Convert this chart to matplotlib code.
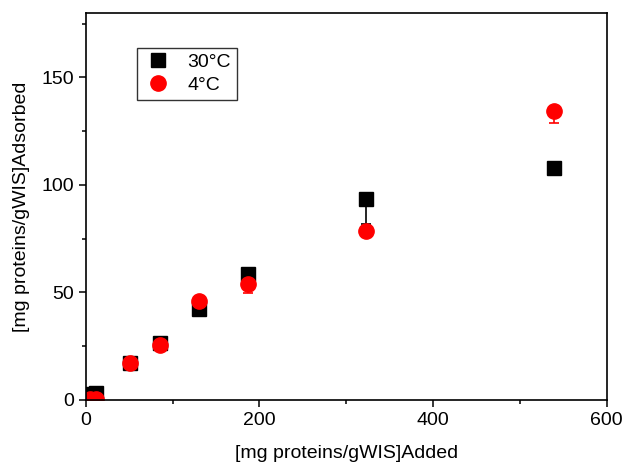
import matplotlib
matplotlib.use("Agg")
import matplotlib.pyplot as plt
from matplotlib.ticker import MultipleLocator

plt.rcParams['font.family'] = ['Liberation Sans', 'DejaVu Sans']

added = [5, 12, 51, 86, 131, 187, 323, 539]
ads_30 = [3.0, 3.2, 17.0, 26.5, 42.5, 58.5, 93.5, 108.0]
err_30 = [0.5, 0.5, 1.0, 1.0, 1.0, 1.5, 11.5, 2.4]
ads_4 = [0.6, 0.6, 17.0, 25.6, 46.0, 54.0, 78.7, 134.5]
err_4 = [0.3, 0.3, 1.0, 1.0, 5.0, 4.4, 1.0, 5.9]

fig = plt.figure(figsize=(6.23, 4.67), dpi=100)
ax = fig.add_axes([0.1376, 0.1435, 0.8362, 0.8287])

ax.errorbar(added, ads_30, yerr=[err_30, [0] * len(err_30)], fmt='s', color='black',
            ms=10, capsize=3.5, elinewidth=1.2, capthick=1.2, label='30°C')
ax.errorbar(added, ads_4, yerr=[err_4, [0] * len(err_4)], fmt='o', color='red',
            ms=11, capsize=3.5, elinewidth=1.2, capthick=1.2, label='4°C')

ax.set_xlim(0, 600)
ax.set_ylim(0, 180)
ax.xaxis.set_major_locator(MultipleLocator(200))
ax.xaxis.set_minor_locator(MultipleLocator(100))
ax.yaxis.set_major_locator(MultipleLocator(50))
ax.yaxis.set_minor_locator(MultipleLocator(25))
ax.tick_params(which='major', direction='out', length=5, width=1.1, labelsize=14)
ax.tick_params(which='minor', direction='out', length=3, width=1.1)
for s in ax.spines.values():
    s.set_linewidth(1.2)

ax.set_xlabel('[mg proteins/gWIS]Added', fontsize=14, labelpad=12)
ax.set_ylabel('[mg proteins/gWIS]Adsorbed', fontsize=14, labelpad=8)

handles, labels = ax.get_legend_handles_labels()
handles = [h[0] for h in handles]
leg = ax.legend(handles, labels, loc='upper left', bbox_to_anchor=(0.08, 0.935),
                fontsize=14, frameon=True, fancybox=False, edgecolor='black',
                handletextpad=0.8, borderpad=0.3, labelspacing=0.25, handlelength=1.5)
leg.get_frame().set_linewidth(1.0)

fig.savefig('out.png', dpi=100)
